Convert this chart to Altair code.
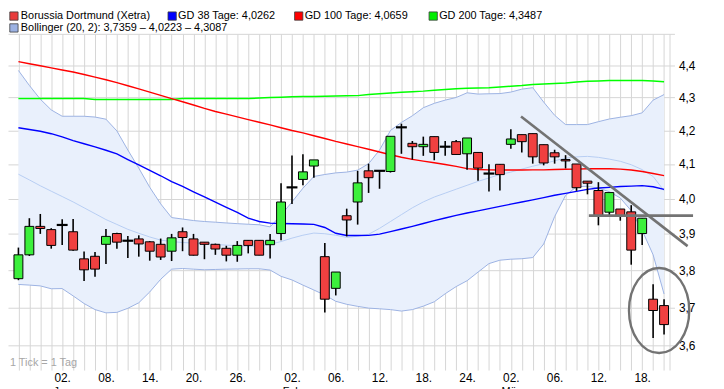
import altair as alt
import pandas as pd

# ---------------- data ----------------
DAY = list(range(60))  # trading days 22.12.2014 ... 20.03.2015
OPEN = [3.777, 3.842, 3.921, 3.912, 3.925, 3.906, 3.831, 3.838, 3.871, 3.901,
        3.881, 3.886, 3.878, 3.871, 3.852, 3.906, 3.886, 3.877, 3.871, 3.860,
        3.841, 3.882, 3.882, 3.870, 3.901, 4.032, 4.055, 4.094, 3.837, 3.751,
        3.951, 3.990, 4.080, 4.080, 4.078, 4.209, 4.161, 4.151, 4.181, 4.151,
        4.166, 4.130, 4.134, 4.072, 4.099, 4.158, 4.187, 4.190, 4.157, 4.133,
        4.113, 4.100, 4.050, 4.023, 3.961, 3.970, 3.962, 3.901, 3.722, 3.705]
HIGH = [3.862, 3.944, 3.956, 3.916, 3.941, 3.942, 3.851, 3.850, 3.914, 3.903,
        3.894, 3.896, 3.880, 3.887, 3.900, 3.918, 3.900, 3.877, 3.873, 3.867,
        3.880, 3.883, 3.882, 3.900, 4.044, 4.125, 4.129, 4.112, 3.875, 3.795,
        3.971, 4.080, 4.101, 4.080, 4.182, 4.220, 4.168, 4.181, 4.181, 4.168,
        4.171, 4.177, 4.134, 4.099, 4.099, 4.203, 4.187, 4.190, 4.157, 4.142,
        4.126, 4.100, 4.050, 4.047, 4.017, 3.970, 3.981, 3.944, 3.762, 3.722]
LOW = [3.773, 3.839, 3.900, 3.859, 3.869, 3.853, 3.771, 3.782, 3.817, 3.859,
       3.833, 3.837, 3.826, 3.828, 3.825, 3.852, 3.840, 3.830, 3.842, 3.824,
       3.823, 3.846, 3.841, 3.832, 3.882, 3.984, 4.038, 4.060, 3.687, 3.732,
       3.893, 3.926, 4.016, 4.028, 4.075, 4.130, 4.113, 4.124, 4.111, 4.124,
       4.128, 4.083, 4.051, 4.020, 4.023, 4.145, 4.134, 4.101, 4.096, 4.101,
       4.087, 4.022, 4.012, 3.924, 3.953, 3.937, 3.815, 3.869, 3.620, 3.629]
CLOSE = [3.842, 3.921, 3.915, 3.868, 3.925, 3.855, 3.801, 3.803, 3.893, 3.877,
         3.881, 3.872, 3.852, 3.836, 3.889, 3.890, 3.841, 3.871, 3.858, 3.841,
         3.868, 3.868, 3.841, 3.882, 3.990, 4.032, 4.077, 4.112, 3.722, 3.795,
         3.939, 4.045, 4.060, 4.080, 4.182, 4.209, 4.151, 4.158, 4.134, 4.151,
         4.128, 4.177, 4.088, 4.072, 4.069, 4.174, 4.166, 4.121, 4.103, 4.121,
         4.109, 4.031, 4.044, 3.951, 4.017, 3.951, 3.855, 3.944, 3.692, 3.655]
GD38 = [4.2075, 4.2025, 4.1972, 4.1898, 4.1801, 4.1693, 4.1599, 4.1504, 4.1405, 4.1295,
        4.1131, 4.0973, 4.0812, 4.0656, 4.0488, 4.0347, 4.0193, 4.0045, 3.9896, 3.9749,
        3.9602, 3.9444, 3.9347, 3.9303, 3.9292, 3.9284, 3.9276, 3.9265, 3.9179, 3.9017,
        3.8954, 3.8957, 3.8960, 3.8993, 3.9064, 3.9138, 3.9212, 3.9292, 3.9372, 3.9447,
        3.9519, 3.9588, 3.9649, 3.9713, 3.9774, 3.9838, 3.9899, 3.9961, 4.0025, 4.0092,
        4.0148, 4.0205, 4.0261, 4.0301, 4.0321, 4.0343, 4.0357, 4.0369, 4.0338, 4.0262]
GD100 = [4.4114, 4.4049, 4.3984, 4.3917, 4.3853, 4.3788, 4.3711, 4.3629, 4.3547, 4.3458,
         4.3361, 4.3264, 4.3164, 4.3061, 4.2965, 4.2866, 4.2767, 4.2663, 4.2570, 4.2489,
         4.2406, 4.2323, 4.2243, 4.2163, 4.2078, 4.1995, 4.1922, 4.1837, 4.1755, 4.1667,
         4.1591, 4.1512, 4.1434, 4.1353, 4.1272, 4.1197, 4.1137, 4.1085, 4.1036, 4.0985,
         4.0928, 4.0865, 4.0837, 4.0828, 4.0823, 4.0823, 4.0823, 4.0826, 4.0828, 4.0837,
         4.0845, 4.0851, 4.0859, 4.0865, 4.0859, 4.0851, 4.0823, 4.0780, 4.0723, 4.0659]
GD200 = [4.2967, 4.2967, 4.2967, 4.2967, 4.2967, 4.2967, 4.2967, 4.2937, 4.2937, 4.2937,
         4.2937, 4.2937, 4.2937, 4.2937, 4.2937, 4.2967, 4.2967, 4.2967, 4.2967, 4.2967,
         4.2967, 4.2967, 4.2982, 4.2994, 4.3003, 4.3018, 4.3027, 4.3030, 4.3036, 4.3042,
         4.3049, 4.3055, 4.3088, 4.3112, 4.3133, 4.3158, 4.3176, 4.3194, 4.3224, 4.3242,
         4.3264, 4.3282, 4.3291, 4.3300, 4.3322, 4.3346, 4.3365, 4.3400, 4.3416, 4.3428,
         4.3447, 4.3474, 4.3499, 4.3508, 4.3520, 4.3523, 4.3523, 4.3523, 4.3508, 4.3487]
BB_UP = [4.3837, 4.3370, 4.2946, 4.2617, 4.2424, 4.2424, 4.2424, 4.2400, 4.2335, 4.1980,
         4.1411, 4.0878, 4.0323, 3.9846, 3.9458, 3.9416, 3.9374, 3.9347, 3.9328, 3.9306,
         3.9287, 3.9270, 3.9256, 3.9196, 3.9527, 3.9902, 4.0295, 4.0636, 4.0693, 4.0740,
         4.0763, 4.0820, 4.1007, 4.1411, 4.1995, 4.2237, 4.2439, 4.2684, 4.2818, 4.2917,
         4.2997, 4.3142, 4.3103, 4.3112, 4.3118, 4.3164, 4.3255, 4.3300, 4.2857, 4.2454,
         4.2172, 4.2172, 4.2172, 4.2260, 4.2341, 4.2394, 4.2442, 4.2528, 4.2917, 4.3087]
BB_MID = [4.0701, 4.0536, 4.0366, 4.0210, 4.0056, 3.9902, 3.9735, 3.9569, 3.9402, 3.9265,
          3.9127, 3.9018, 3.8914, 3.8827, 3.8787, 3.8760, 3.8746, 3.8725, 3.8706, 3.8687,
          3.8671, 3.8652, 3.8665, 3.8711, 3.8787, 3.8882, 3.8963, 3.9023, 3.9004, 3.8963,
          3.8900, 3.8936, 3.8990, 3.9155, 3.9347, 3.9541, 3.9735, 3.9902, 4.0042, 4.0154,
          4.0267, 4.0380, 4.0493, 4.0592, 4.0692, 4.0763, 4.0850, 4.0935, 4.1007, 4.1094,
          4.1172, 4.1209, 4.1224, 4.1195, 4.1143, 4.1079, 4.0978, 4.0835, 4.0636, 4.0223]
BB_LO = [3.7615, 3.7597, 3.7576, 3.7499, 3.7504, 3.7308, 3.7105, 3.6944, 3.6858, 3.6871,
         3.6978, 3.7125, 3.7413, 3.7754, 3.8028, 3.8046, 3.8028, 3.8012, 3.8020, 3.8028,
         3.8033, 3.8039, 3.8039, 3.8004, 3.7834, 3.7736, 3.7597, 3.7465, 3.7329, 3.7164,
         3.7084, 3.7030, 3.6983, 3.6965, 3.6944, 3.6905, 3.6944, 3.7035, 3.7151, 3.7365,
         3.7557, 3.7715, 3.7948, 3.8180, 3.8273, 3.8300, 3.8313, 3.8345, 3.8719, 3.9485,
         4.0089, 4.0338, 4.0352, 4.0295, 4.0196, 4.0014, 3.9652, 3.9099, 3.8421, 3.7359]

LABEL_DAY = [4, 8, 12, 16, 20, 25, 29, 33, 37, 41, 45, 49, 53, 57]
LABEL_TXT = ["02.", "08.", "14.", "20.", "26.", "02.", "06.", "12.", "18.", "24.",
             "02.", "06.", "12.", "18."]
MONTH_DAY = [4, 25, 45]
MONTH_TXT = ["Jan", "Feb", "Mär"]
Y_TICKS = [3.6, 3.7, 3.8, 3.9, 4.0, 4.1, 4.2, 4.3, 4.4, 4.5]

# hand-drawn annotations (in data units)
TREND_DAY = [45.93, 61.15]
TREND_PRICE = [4.242, 3.866]
SUPPORT_DAY = [52.13, 61.65]
SUPPORT_PRICE = [3.951, 3.951]
ELLIPSE_DAY = [58.55]
ELLIPSE_PRICE = [3.692]

LEGEND = [
    ("Borussia Dortmund (Xetra)", "#e83c3c"),
    ("GD 38 Tage: 4,0262", "#0000ff"),
    ("GD 100 Tage: 4,0659", "#ff0000"),
    ("GD 200 Tage: 4,3487", "#00ee00"),
    ("Bollinger (20, 2): 3,7359 \u2013 4,0223 \u2013 4,3087", "#9cb2e3"),
]

# ---------------- chart ----------------
W, H = 674, 340
FONT = "Liberation Sans"

df = pd.DataFrame({
    "day": DAY, "open": OPEN, "high": HIGH, "low": LOW, "close": CLOSE,
    "gd38": GD38, "gd100": GD100, "gd200": GD200,
    "bb_up": BB_UP, "bb_mid": BB_MID, "bb_lo": BB_LO,
})

lab_days = "[" + ",".join(str(d) for d in LABEL_DAY) + "]"
lab_txt = "[" + ",".join("'" + t + "'" for t in LABEL_TXT) + "]"
x_label_expr = f"{lab_txt}[indexof({lab_days}, datum.value)] || ''"

XS = alt.Scale(domain=[-0.5, 59.5], nice=False, zero=False)
YS = alt.Scale(type="log", domain=[3.538, 4.5], nice=False, zero=False)
XAX = alt.Axis(values=DAY + [59.5], labelExpr=x_label_expr, grid=True, ticks=False,
               domain=False, title=None, labelFont=FONT, labelFontSize=12,
               labelColor="#000000", labelPadding=3, labelOverlap=False,
               labelFlush=False, labelBound=False, gridColor="#d6d6d6", gridWidth=1)
YAX = alt.Axis(orient="right", values=Y_TICKS,
               labelExpr="datum.value > 4.45 ? '' : replace(format(datum.value, '.1f'), '.', ',')",
               grid=True, ticks=False, domain=False, title=None, labelFont=FONT,
               labelFontSize=12, labelColor="#000000", labelPadding=4,
               labelOverlap=False, labelFlush=False, labelBound=False,
               gridColor="#d6d6d6", gridWidth=1)


def X(field="day"):
    return alt.X(f"{field}:Q", scale=XS, axis=XAX)


def Y(field):
    return alt.Y(f"{field}:Q", scale=YS, axis=YAX)


base = alt.Chart(df)

band = base.mark_area(color="#e9f0fc", opacity=1).encode(
    x=X(), y=Y("bb_lo"), y2="bb_up")
band_up = base.mark_line(color="#9cb2e3", strokeWidth=1).encode(x=X(), y=Y("bb_up"))
band_lo = base.mark_line(color="#9cb2e3", strokeWidth=1).encode(x=X(), y=Y("bb_lo"))
band_mid = base.mark_line(color="#b7cdf3", strokeWidth=1).encode(x=X(), y=Y("bb_mid"))
gd200 = base.mark_line(color="#00ff00", strokeWidth=1.5).encode(x=X(), y=Y("gd200"))
gd100 = base.mark_line(color="#ff0000", strokeWidth=1.4).encode(x=X(), y=Y("gd100"))
gd38 = base.mark_line(color="#0000ff", strokeWidth=1.4).encode(x=X(), y=Y("gd38"))

wicks = base.mark_rule(color="#000000", strokeWidth=1.6).encode(
    x=X(), y=Y("low"), y2="high")
bodies = base.transform_filter("datum.open != datum.close").mark_bar(
    size=9, stroke="#000000", strokeWidth=1).encode(
    x=X(), y=Y("open"), y2="close",
    color=alt.condition("datum.close > datum.open", alt.value("#3cf03c"), alt.value("#f04040")))
doji = base.transform_filter("datum.open == datum.close").mark_tick(
    orient="horizontal", size=11, thickness=2.2, color="#000000", opacity=1).encode(
    x=X(), y=Y("open"))

trend = alt.Chart(pd.DataFrame({"day": TREND_DAY, "price": TREND_PRICE})).mark_line(
    color="#737373", strokeWidth=2.6).encode(x=X(), y=Y("price"))
support = alt.Chart(pd.DataFrame({"day": SUPPORT_DAY, "price": SUPPORT_PRICE})).mark_line(
    color="#737373", strokeWidth=2.8).encode(x=X(), y=Y("price"))
ellipse = alt.Chart(pd.DataFrame({"day": ELLIPSE_DAY, "price": ELLIPSE_PRICE})).mark_point(
    shape="M -0.709 0 A 0.709 1 0 1 1 0.709 0 A 0.709 1 0 1 1 -0.709 0 Z",
    size=7396, filled=False, stroke="#737373", strokeWidth=2.4, opacity=1).encode(
    x=X(), y=Y("price"))

months = alt.Chart(pd.DataFrame({"day": MONTH_DAY, "txt": MONTH_TXT})).mark_text(
    font=FONT, fontSize=11, color="#000000", baseline="top", align="center").encode(
    x=X(), y=alt.value(H + 16), text="txt:N")

one = alt.Data(values=[{}])
tick_note = alt.Chart(one).mark_text(
    font=FONT, fontSize=11, color="#a6a6a6", align="left", baseline="middle").encode(
    x=alt.value(2), y=alt.value(H - 7), text=alt.value("1 Tick = 1 Tag"))

legend_layers = []
leg_pos = [(6, 13, -18), (166, 172, -18), (294, 300, -18), (430, 436, -18), (6, 13, -6)]
for (txt, col), (sx, tx, ly) in zip(LEGEND, leg_pos):
    legend_layers.append(alt.Chart(one).mark_square(
        size=70, color=col, stroke="#3a3a3a", strokeWidth=0.8, opacity=1).encode(
        x=alt.value(sx), y=alt.value(ly)))
    legend_layers.append(alt.Chart(one).mark_text(
        font=FONT, fontSize=11, color="#000000", align="left", baseline="middle").encode(
        x=alt.value(tx), y=alt.value(ly), text=alt.value(txt)))

chart = alt.layer(
    band, band_up, band_lo, band_mid, gd200, gd100, gd38,
    wicks, bodies, doji, trend, support, ellipse, months, tick_note, *legend_layers
).properties(
    width=W, height=H,
    autosize=alt.AutoSizeParams(type="none"),
    padding={"left": 0, "top": 24, "right": 42, "bottom": 17},
    background="#ffffff",
).configure_view(stroke=None)

chart.save("out.html", embed_options={"renderer": "svg", "actions": False})
